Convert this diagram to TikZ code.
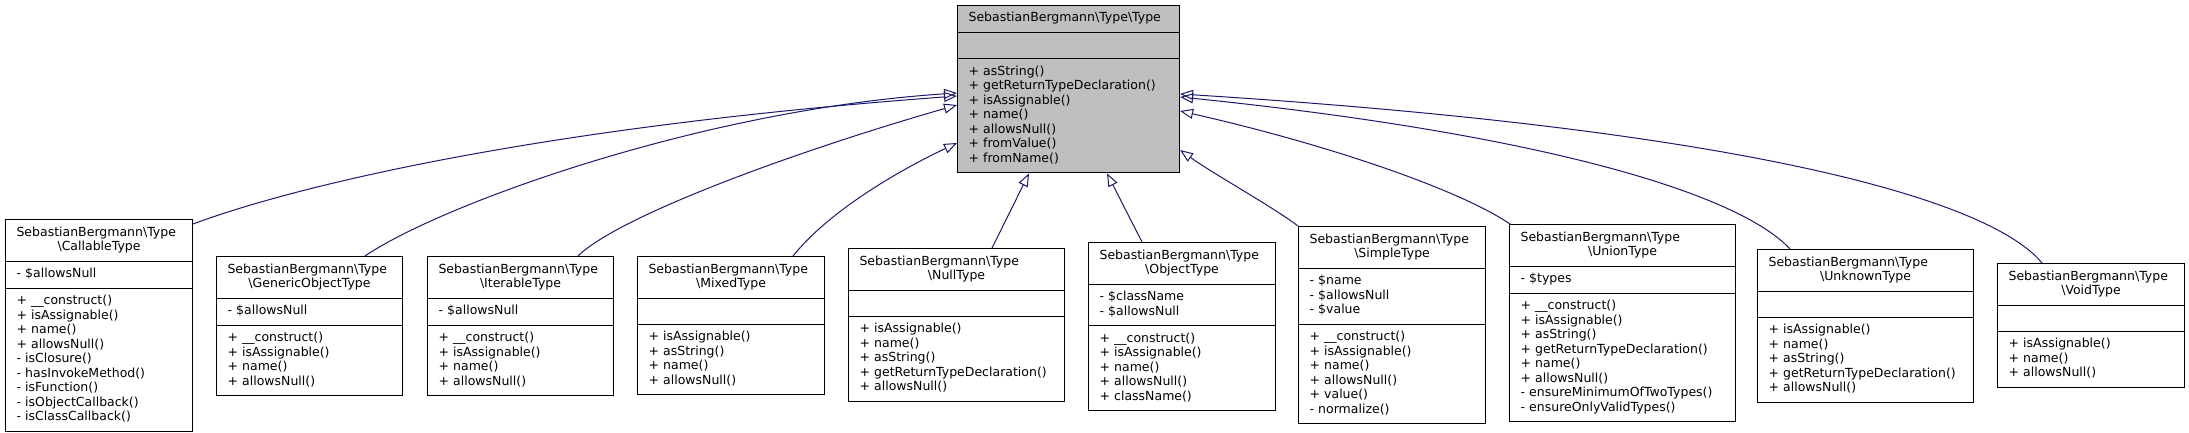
\documentclass[tikz,border=0pt]{standalone}
\usepackage{fontspec}
\setmainfont{DejaVu Sans}
\usetikzlibrary{shapes.multipart,arrows.meta}

\definecolor{edgeblue}{HTML}{191970}
\definecolor{rootgray}{HTML}{BFBFBF}

\newcommand{\clsname}[1]{\strut SebastianBergmann\textbackslash Type\\\makebox[\linewidth]{\textbackslash #1}\strut}
\newcommand{\blankrow}{\rule[-3.5pt]{0pt}{13.5pt}}

\begin{document}
\begin{tikzpicture}[x=1pt,y=-1pt,>={Triangle[open,length=13pt,width=10pt]},
  class node/.style={rectangle split,rectangle split parts=3,rectangle split ignore empty parts=false,
    draw=black,line width=1.1pt,fill=white,align=left,inner xsep=11pt,inner ysep=5.75pt,
    anchor=north west,font=\fontsize{12.5}{14.5}\selectfont},
  inherit/.style={->,draw=edgeblue,line width=1pt}]
  \useasboundingbox (0,0) rectangle (2189,433);

  % base class
  \node[class node,fill=rootgray,text width=200pt] (type) at (957,5)
    {\strut SebastianBergmann\textbackslash Type\textbackslash Type\strut
     \nodepart{two}\blankrow
     \nodepart{three}\strut + asString()\\+ getReturnTypeDeclaration()\\+ isAssignable()\\+ name()\\+ allowsNull()\\+ fromValue()\\+ fromName()\strut};

  % derived classes
  \node[class node,text width=165pt] (callable) at (5,219)
    {\clsname{CallableType}
     \nodepart{two}\strut - \$allowsNull\strut
     \nodepart{three}\strut + \_\_construct()\\+ isAssignable()\\+ name()\\+ allowsNull()\\- isClosure()\\- hasInvokeMethod()\\- isFunction()\\- isObjectCallback()\\- isClassCallback()\strut};
  \node[class node,text width=164pt] (generic) at (216,256)
    {\clsname{GenericObjectType}
     \nodepart{two}\strut - \$allowsNull\strut
     \nodepart{three}\strut + \_\_construct()\\+ isAssignable()\\+ name()\\+ allowsNull()\strut};
  \node[class node,text width=164pt] (iterable) at (427,256)
    {\clsname{IterableType}
     \nodepart{two}\strut - \$allowsNull\strut
     \nodepart{three}\strut + \_\_construct()\\+ isAssignable()\\+ name()\\+ allowsNull()\strut};
  \node[class node,text width=165pt] (mixed) at (637,256)
    {\clsname{MixedType}
     \nodepart{two}\blankrow
     \nodepart{three}\strut + isAssignable()\\+ asString()\\+ name()\\+ allowsNull()\strut};
  \node[class node,text width=194pt] (nulltype) at (848,248)
    {\clsname{NullType}
     \nodepart{two}\blankrow
     \nodepart{three}\strut + isAssignable()\\+ name()\\+ asString()\\+ getReturnTypeDeclaration()\\+ allowsNull()\strut};
  \node[class node,text width=165pt] (objecttype) at (1088,242)
    {\clsname{ObjectType}
     \nodepart{two}\strut - \$className\\- \$allowsNull\strut
     \nodepart{three}\strut + \_\_construct()\\+ isAssignable()\\+ name()\\+ allowsNull()\\+ className()\strut};
  \node[class node,text width=165pt] (simple) at (1298,226)
    {\clsname{SimpleType}
     \nodepart{two}\strut - \$name\\- \$allowsNull\\- \$value\strut
     \nodepart{three}\strut + \_\_construct()\\+ isAssignable()\\+ name()\\+ allowsNull()\\+ value()\\- normalize()\strut};
  \node[class node,text width=204pt] (union) at (1509,224)
    {\clsname{UnionType}
     \nodepart{two}\strut - \$types\strut
     \nodepart{three}\strut + \_\_construct()\\+ isAssignable()\\+ asString()\\+ getReturnTypeDeclaration()\\+ name()\\+ allowsNull()\\- ensureMinimumOfTwoTypes()\\- ensureOnlyValidTypes()\strut};
  \node[class node,text width=194pt] (unknown) at (1757,249)
    {\clsname{UnknownType}
     \nodepart{two}\blankrow
     \nodepart{three}\strut + isAssignable()\\+ name()\\+ asString()\\+ getReturnTypeDeclaration()\\+ allowsNull()\strut};
  \node[class node,text width=165pt] (void) at (1997,263)
    {\clsname{VoidType}
     \nodepart{two}\blankrow
     \nodepart{three}\strut + isAssignable()\\+ name()\\+ allowsNull()\strut};

  % inheritance
  \draw[inherit] ([yshift=-5pt]callable.north east) .. controls (270,195) and (500,130) .. ([yshift=-91pt]type.north west);
  \draw[inherit] ([xshift=149pt]generic.north west) .. controls (440,205) and (700,110) .. ([yshift=-88pt]type.north west);
  \draw[inherit] ([xshift=151pt]iterable.north west) .. controls (620,215) and (800,150) .. ([yshift=-100pt]type.north west);
  \draw[inherit] ([xshift=156pt]mixed.north west) .. controls (830,210) and (900,170) .. ([yshift=-138pt]type.north west);
  \draw[inherit] ([xshift=144pt]nulltype.north west) -- ([xshift=72pt]type.south west);
  \draw[inherit] ([xshift=54pt]objecttype.north west) -- ([xshift=150pt]type.south west);
  \draw[inherit] (simple.north west) .. controls (1270,205) and (1215,175) .. ([yshift=-145pt]type.north east);
  \draw[inherit] ([xshift=1pt]union.north west) .. controls (1460,190) and (1330,145) .. ([yshift=-106pt]type.north east);
  \draw[inherit] ([xshift=33pt]unknown.north west) .. controls (1740,195) and (1550,135) .. ([yshift=-92pt]type.north east);
  \draw[inherit] ([xshift=45pt]void.north west) .. controls (1990,200) and (1750,130) .. ([yshift=-89pt]type.north east);
\end{tikzpicture}
\end{document}
